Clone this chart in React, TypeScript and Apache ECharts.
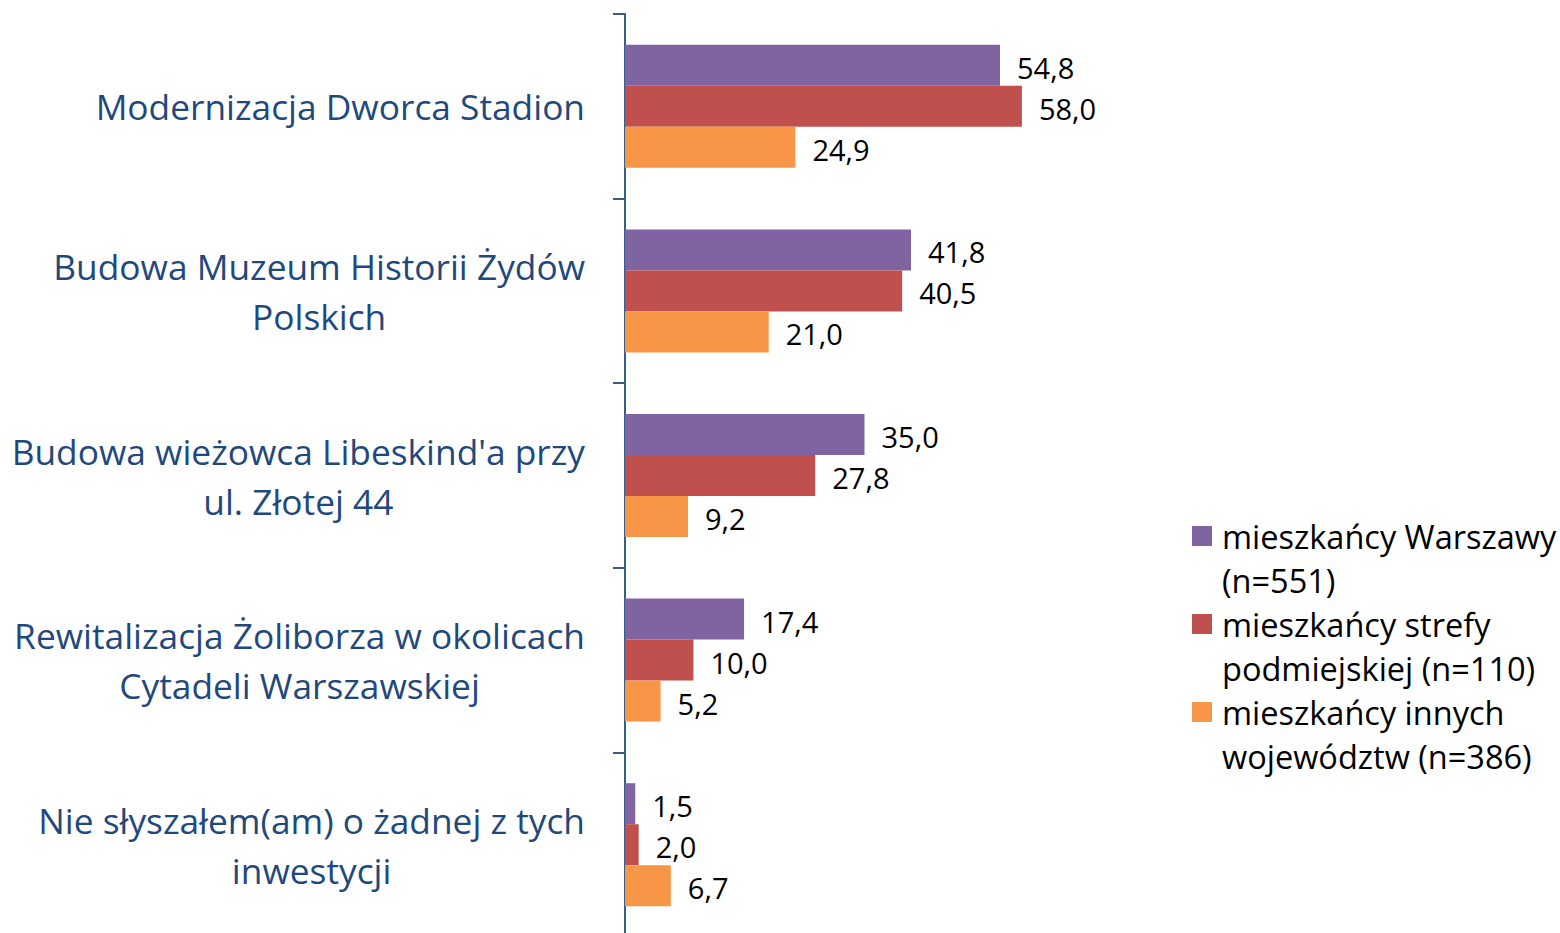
import React, { useEffect, useRef } from "react";
import * as echarts from "echarts";

const categories: string[] = [
  "Modernizacja Dworca Stadion",
  "Budowa Muzeum Historii Żydów\nPolskich",
  "Budowa wieżowca Libeskind'a przy\nul. Złotej 44",
  "Rewitalizacja Żoliborza w okolicach\nCytadeli Warszawskiej",
  "Nie słyszałem(am) o żadnej z tych\ninwestycji",
];

const seriesNames: string[] = [
  "mieszkańcy Warszawy\n(n=551)",
  "mieszkańcy strefy\npodmiejskiej (n=110)",
  "mieszkańcy innych\nwojewództw (n=386)",
];

const warszawa: number[] = [54.8, 41.8, 35.0, 17.4, 1.5];
const podmiejska: number[] = [58.0, 40.5, 27.8, 10.0, 2.0];
const inne: number[] = [24.9, 21.0, 9.2, 5.2, 6.7];

const colors: string[] = ["#8064A2", "#C0504D", "#F79646"];

const FONT = "Open Sans";

export default function App() {
  const ref = useRef<HTMLDivElement>(null);
  useEffect(() => {
    if (!ref.current) return;
    const chart = echarts.init(ref.current, null, { renderer: "svg" });
    const dataSets = [warszawa, podmiejska, inne];
    chart.setOption({
      animation: false,
      textStyle: { fontFamily: FONT },
      grid: { left: 625, top: 14, width: 479, height: 923, containLabel: false },
      xAxis: {
        type: "value",
        min: 0,
        max: 70,
        show: false,
        splitLine: { show: false },
      },
      yAxis: {
        type: "category",
        inverse: true,
        data: categories,
        axisLine: { show: true, lineStyle: { color: "#385D8A", width: 2 } },
        axisTick: { show: true, length: 12, lineStyle: { color: "#385D8A", width: 2 } },
        axisLabel: {
          margin: 40,
          formatter: (v: string) =>
            v
              .split("\n")
              .map((l) => "{c|" + l + "}")
              .join("\n"),
          rich: {
            c: {
              align: "center",
              fontSize: 35.3,
              lineHeight: 50,
              color: "#1F497D",
              fontFamily: FONT,
            },
          },
        },
      },
      legend: {
        orient: "vertical",
        left: 1192,
        top: 470,
        padding: 0,
        itemWidth: 20,
        itemHeight: 20,
        itemGap: -44,
        icon: "rect",
        data: seriesNames,
        formatter: (name: string) => "\n" + name,
        textStyle: {
          fontSize: 32.5,
          lineHeight: 44,
          color: "#000",
          fontFamily: FONT,
          padding: [0, 0, 0, 5],
        },
      },
      series: seriesNames.map((name, i) => ({
        name,
        type: "bar",
        data: dataSets[i],
        barWidth: 41,
        barGap: "0%",
        itemStyle: { color: colors[i] },
        label: {
          show: true,
          position: "right",
          distance: 17,
          offset: [0, 2],
          color: "#000",
          fontSize: 29,
          fontFamily: FONT,
          formatter: (p: any) => Number(p.value).toFixed(1).replace(".", ","),
        },
      })),
    });
    return () => chart.dispose();
  }, []);
  return (
    <div
      style={{
        position: "absolute",
        left: 0,
        top: 0,
        width: 1560,
        height: 933,
        overflow: "hidden",
      }}
    >
      <div ref={ref} style={{ width: 1560, height: 960 }} />
    </div>
  );
}
